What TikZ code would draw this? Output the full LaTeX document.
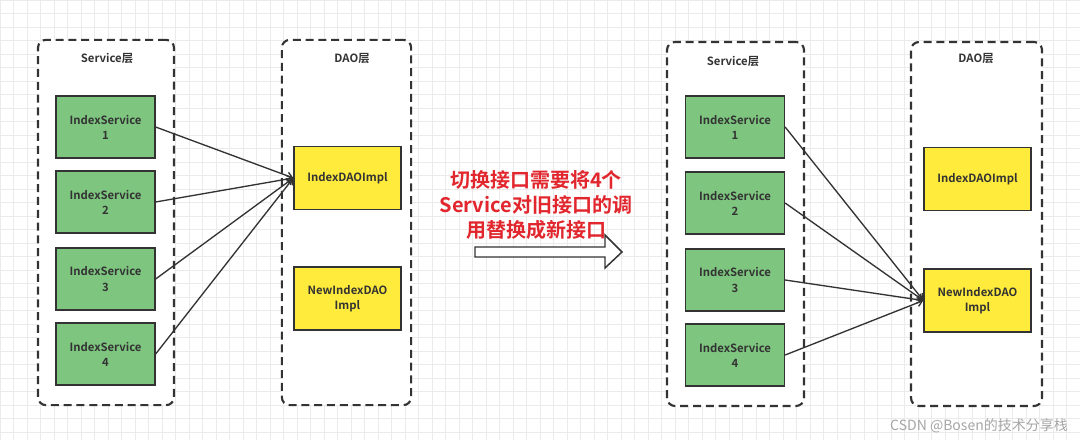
\documentclass[tikz,border=0pt]{standalone}
\usepackage{fontspec}
\setmainfont{Noto Sans CJK SC}[BoldFont={Noto Sans CJK SC Bold}]
\usetikzlibrary{arrows.meta}
\definecolor{inkgray}{HTML}{333333}
\definecolor{svcgreen}{HTML}{7EC680}
\definecolor{daoyellow}{HTML}{FFEB3B}
\definecolor{notered}{HTML}{E1262D}
\definecolor{gridgray}{HTML}{EBEBEB}
\tikzset{
  layer/.style={draw=inkgray, line width=1.6pt, dash pattern=on 6pt off 3.6pt, rounded corners=6pt, fill=white},
  layertitle/.style={font=\fontsize{8.5}{10}\selectfont\bfseries, text=inkgray},
  svcbox/.style={draw=inkgray, line width=1.2pt, fill=svcgreen, minimum width=74pt, minimum height=46.5pt, align=center, font=\fontsize{8.5}{11.3}\selectfont\bfseries, text=inkgray, inner sep=0pt},
  daobox/.style={draw=inkgray, line width=1.2pt, fill=daoyellow, minimum width=80pt, minimum height=47pt, align=center, font=\fontsize{8.5}{11.3}\selectfont\bfseries, text=inkgray, inner sep=0pt},
  call/.style={draw=inkgray, line width=1pt, -{Straight Barb[length=4pt,width=5.5pt]}},
}
\begin{document}
\begin{tikzpicture}[x=0.75pt,y=-0.75pt]
\useasboundingbox (0,0) rectangle (1080,440);
\fill[white] (0,0) rectangle (1080,440);
\draw[gridgray, line width=0.4pt, step=10.125pt] (0,0) grid (1080,440); % background grid

% before: left half
\node[layer, minimum width=102pt, minimum height=274pt] (svcL) at (106,222.5) {};
\node[layer, minimum width=97pt, minimum height=274pt] (daoL) at (346.5,222.5) {};
\node[layertitle] (svcLtitle) at (107,58) {Service层};
\node[layertitle] (daoLtitle) at (352,58) {DAO层};
\node[svcbox] (sL1) at (105.5,127) {IndexService\\1};
\node[svcbox] (sL2) at (105.5,202) {IndexService\\2};
\node[svcbox] (sL3) at (105.5,279) {IndexService\\3};
\node[svcbox] (sL4) at (105.5,354) {IndexService\\4};
\node[daobox] (oldL) at (347.5,178) {IndexDAOImpl};
\node[daobox] (newL) at (347.5,298.5) {NewIndexDAO\\Impl};
\foreach \i in {1,...,4}
  \draw[call] (sL\i.east) -- (oldL.west);

% middle: note and block arrow
\node[font=\fontsize{15}{18.4}\selectfont\bfseries, text=notered, align=center] (note) at (536,205) {切换接口需要将4个\\Service对旧接口的调\\用替换成新接口};
\draw[inkgray, line width=1.1pt, fill=white] (475,247) -- (605,247) -- (605,235) -- (622,252) -- (605,268) -- (605,257) -- (475,257) -- cycle;

% after: right half
\node[layer, minimum width=102.75pt, minimum height=273pt] (svcR) at (735.5,224) {};
\node[layer, minimum width=98.25pt, minimum height=273pt] (daoR) at (976.5,224) {};
\node[layertitle] (svcRtitle) at (733,61) {Service层};
\node[layertitle] (daoRtitle) at (976,58) {DAO层};
\node[svcbox] (sR1) at (735,127) {IndexService\\1};
\node[svcbox] (sR2) at (735,203) {IndexService\\2};
\node[svcbox] (sR3) at (735,280) {IndexService\\3};
\node[svcbox] (sR4) at (735,355) {IndexService\\4};
\node[daobox] (oldR) at (977.5,179) {IndexDAOImpl};
\node[daobox] (newR) at (977.5,300.5) {NewIndexDAO\\Impl};
\foreach \i in {1,...,4}
  \draw[call] (sR\i.east) -- (newR.west);

\node[font=\fontsize{10.5}{12}\selectfont, text=black!35] (mark) at (979,426) {CSDN @Bosen的技术分享栈};
\end{tikzpicture}
\end{document}
